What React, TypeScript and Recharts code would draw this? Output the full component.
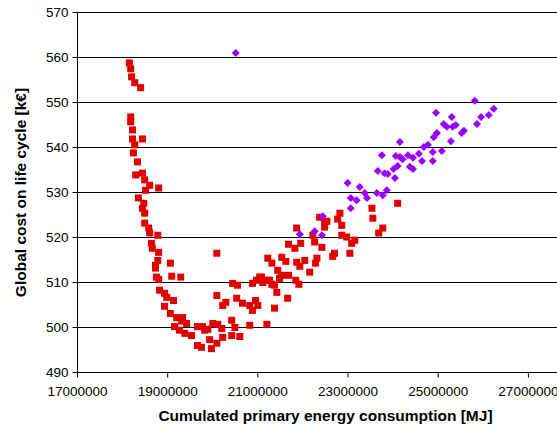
import { CartesianGrid, Label, Scatter, ScatterChart, XAxis, YAxis } from "recharts";

const ENERGY_TICKS = [17000000, 19000000, 21000000, 23000000, 25000000, 27000000];
const COST_TICKS = [490, 500, 510, 520, 530, 540, 550, 560, 570];

// red squares
const squareEnergy = [
  18150000, 18180000, 18200000, 18270000, 18400000, 18180000, 18180000, 18220000, 18220000, 18440000,
  18270000, 18240000, 18330000, 18290000, 18440000, 18490000, 18600000, 18510000, 18800000, 18350000,
  18470000, 18440000, 18490000, 18490000, 18580000, 18600000, 18780000, 18640000, 18660000, 18800000,
  18780000, 18730000, 18730000, 19060000, 18750000, 18800000, 19090000, 19290000, 20090000, 18820000,
  18930000, 18980000, 19130000, 18930000, 19060000, 19200000, 19330000, 19310000, 19420000, 19150000,
  19260000, 19380000, 19530000, 19660000, 19770000, 19820000, 19890000, 20000000, 20110000, 20200000,
  19660000, 19750000, 19930000, 19970000, 20090000, 20220000, 20420000, 20600000, 20420000, 20490000,
  20820000, 21200000, 20090000, 20220000, 20290000, 20530000, 20660000, 20820000, 20880000, 20950000,
  21000000, 20440000, 20550000, 20880000, 21080000, 21260000, 21370000, 21420000, 21370000, 21220000,
  21440000, 21110000, 21860000, 21680000, 21820000, 21950000, 21310000, 21530000, 21620000, 21860000,
  22040000, 22310000, 22280000, 21930000, 22150000, 21530000, 21680000, 21480000, 21040000, 20970000,
  21220000, 21310000, 21840000, 21910000, 21660000, 22370000, 22480000, 22530000, 22480000, 22820000,
  22770000, 22860000, 22220000, 22260000, 22420000, 22860000, 22970000, 23150000, 23080000, 22700000,
  22660000, 23040000, 23530000, 23550000, 23770000, 23680000, 24100000,
];
const squareCost = [
  558.8, 557.5, 555.7, 554.4, 553.3, 546.8, 545.7, 543.9, 541.9, 541.9,
  540.6, 538.8, 536.8, 533.9, 534.3, 532.8, 531.6, 530.5, 531.0, 528.8,
  527.6, 526.5, 525.4, 523.2, 522.1, 521.0, 520.5, 518.7, 517.6, 516.7,
  514.9, 513.8, 513.2, 514.3, 511.2, 510.7, 511.4, 511.2, 516.5, 508.3,
  507.6, 506.7, 506.0, 504.7, 503.1, 502.2, 502.2, 501.4, 500.9, 500.2,
  499.4, 498.7, 498.2, 500.2, 500.2, 499.4, 499.6, 500.9, 500.7, 499.8,
  496.0, 495.6, 497.3, 495.3, 496.5, 497.8, 498.2, 498.0, 501.6, 500.0,
  500.5, 500.7, 507.1, 504.9, 505.6, 506.5, 505.4, 504.9, 503.8, 506.0,
  504.9, 509.8, 509.4, 509.8, 511.2, 510.5, 509.4, 507.8, 504.3, 515.4,
  512.7, 510.0, 522.1, 518.5, 517.6, 518.7, 514.3, 515.6, 514.7, 514.5,
  514.9, 515.4, 514.3, 513.6, 512.3, 511.6, 511.6, 510.9, 511.2, 510.5,
  510.5, 509.6, 510.5, 509.6, 506.5, 524.5, 523.4, 523.6, 522.3, 525.4,
  524.1, 522.7, 520.5, 519.0, 517.8, 520.5, 520.1, 519.4, 518.7, 516.5,
  515.8, 516.5, 526.5, 524.3, 522.1, 521.0, 527.6,
];

// purple diamonds
const diamondEnergy = [
  20510000, 21930000, 22260000, 22420000, 22440000, 22990000, 23060000, 23260000, 23060000, 23190000,
  23370000, 23420000, 23640000, 23770000, 23860000, 23660000, 23750000, 23810000, 23880000, 24040000,
  24010000, 24100000, 24150000, 24060000, 24150000, 24210000, 24330000, 24440000, 24370000, 24440000,
  24570000, 24640000, 24680000, 24770000, 24880000, 24880000, 25080000, 24900000, 24970000, 24950000,
  25120000, 25190000, 25280000, 25300000, 25320000, 25390000, 25520000, 25570000, 25810000, 25860000,
  25950000, 26120000, 26230000,
];
const diamondCost = [
  561.0, 520.7, 521.4, 520.5, 524.7, 532.1, 528.8, 531.2, 526.5, 528.3,
  529.9, 528.8, 529.9, 529.4, 530.5, 534.8, 538.3, 534.3, 534.1, 533.2,
  535.2, 535.9, 541.2, 538.1, 537.9, 537.4, 538.3, 537.7, 535.7, 535.2,
  538.6, 537.0, 540.1, 540.6, 539.0, 537.0, 539.2, 542.3, 543.2, 547.7,
  545.2, 544.6, 541.4, 546.8, 544.6, 545.0, 543.2, 543.7, 550.4, 545.2,
  546.8, 547.2, 548.6,
];

const squarePoints = squareEnergy.map((energy, i) => ({ energy, cost: squareCost[i] }));
const diamondPoints = diamondEnergy.map((energy, i) => ({ energy, cost: diamondCost[i] }));

const FONT = '"Liberation Sans", Arial, sans-serif';
const TICK_STYLE = { fill: "#000", fontSize: 13.5, fontFamily: FONT };
const TITLE_STYLE = { fill: "#000", fontSize: 15.5, fontWeight: 700, fontFamily: FONT };

function SquareMark(props: any) {
  const { cx, cy } = props;
  return <rect x={cx - 3.5} y={cy - 3.5} width={7} height={7} fill="#e00000" />;
}

function DiamondMark(props: any) {
  const { cx, cy } = props;
  return (
    <polygon
      points={`${cx},${cy - 4} ${cx + 4},${cy} ${cx},${cy + 4} ${cx - 4},${cy}`}
      fill="#9900ff"
    />
  );
}

export default function App() {
  return (
    <div
      style={{
        position: "absolute",
        left: 0,
        top: 0,
        width: 557,
        height: 426,
        overflow: "hidden",
        background: "#fff",
      }}
    >
      <ScatterChart
        width={600}
        height={426}
        margin={{ top: 12.5, right: 26.5, bottom: 0, left: 0 }}
        style={{ fontFamily: FONT }}
      >
        <CartesianGrid horizontal vertical={false} stroke="#000" />
        <XAxis
          type="number"
          dataKey="energy"
          domain={[17000000, 28000000]}
          ticks={ENERGY_TICKS}
          interval={0}
          allowDataOverflow
          height={53.5}
          tickSize={5}
          tickMargin={8.5}
          tick={TICK_STYLE}
          axisLine={{ stroke: "#000" }}
          tickLine={{ stroke: "#000" }}
        >
          <Label
            value="Cumulated primary energy consumption [MJ]"
            position="insideBottom"
            offset={5}
            style={TITLE_STYLE}
          />
        </XAxis>
        <YAxis
          type="number"
          dataKey="cost"
          domain={[490, 570]}
          ticks={COST_TICKS}
          interval={0}
          width={77.5}
          tickSize={5}
          tickMargin={4}
          tick={TICK_STYLE}
          axisLine={{ stroke: "#000" }}
          tickLine={{ stroke: "#000" }}
        >
          <Label
            value="Global cost on life cycle [k€]"
            angle={-90}
            position="center"
            dx={-18}
            style={{ ...TITLE_STYLE, textAnchor: "middle" }}
          />
        </YAxis>
        <Scatter data={squarePoints} shape={SquareMark} isAnimationActive={false} />
        <Scatter data={diamondPoints} shape={DiamondMark} isAnimationActive={false} />
      </ScatterChart>
    </div>
  );
}
